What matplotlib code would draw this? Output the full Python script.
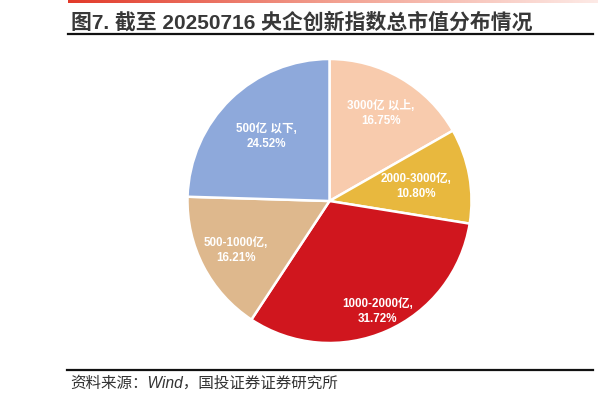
import numpy as np
import matplotlib
matplotlib.use("Agg")
import matplotlib.pyplot as plt
from matplotlib.lines import Line2D
from matplotlib.colors import LinearSegmentedColormap

plt.rcParams['font.family'] = ['Liberation Sans', 'Noto Sans CJK SC']

labels = ["3000亿以上", "2000-3000亿", "1000-2000亿", "500-1000亿", "500亿以下"]
label_texts = ["3000亿 以上,", "2000-3000亿,", "1000-2000亿,", "500-1000亿,", "500亿 以下,"]
values = [16.75, 10.80, 31.72, 16.21, 24.52]
colors = ["#F8CBAD", "#E8B83E", "#D0161E", "#DEB88D", "#8EA9DB"]
label_dist = [0.72, 0.62, 0.84, 0.74, 0.64]

title_text = "图7. 截至 20250716 央企创新指数总市值分布情况"
source_text = "资料来源：Wind，国投证券证券研究所"

W, H = 598, 402
fig = plt.figure(figsize=(W / 100, H / 100), dpi=100)

# top red gradient bar
gax = fig.add_axes([68 / W, 1 - 4 / H, 1 - 68 / W, 4 / H])
grad = np.linspace(0, 1, 256).reshape(1, -1)
cmap = LinearSegmentedColormap.from_list("rg", ["#E23A2A", "#F2A090", "#FDEAE6"])
gax.imshow(grad, aspect="auto", cmap=cmap)
gax.axis("off")

# title
fig.text(71 / W, 1 - 28.5 / H, title_text, fontsize=15, fontweight="bold", color="#383838",
         va="baseline", ha="left")
fig.add_artist(Line2D([68 / W, 593 / W], [1 - 34.5 / H, 1 - 34.5 / H], color="#111111", lw=1.6))

# bottom line and source
fig.add_artist(Line2D([67 / W, 593 / W], [1 - 371 / H, 1 - 371 / H], color="#111111", lw=1.6))
fig.text(70 / W, 1 - 383 / H, source_text,
         fontsize=11.2, color="#333333", va="center", ha="left", style="italic")

# pie
r = 142
cx, cy = 329.5, 202
ax = fig.add_axes([(cx - r) / W, 1 - (cy + r) / H, 2 * r / W, 2 * r / H])
wedges, _ = ax.pie(values, colors=colors, startangle=90, counterclock=False,
                   wedgeprops=dict(edgecolor="white", linewidth=1.8))
ax.set_xlim(-1, 1)
ax.set_ylim(-1, 1)
ax.set_aspect("equal")
for w, t, v, d in zip(wedges, label_texts, values, label_dist):
    ang = np.deg2rad((w.theta1 + w.theta2) / 2)
    ax.text(d * np.cos(ang), d * np.sin(ang), f"{t}\n{v:.2f}%", ha="center", va="center",
            color="white", fontsize=8.4, fontweight="bold", linespacing=1.35)

fig.savefig("out.png", dpi=100, facecolor="white")
